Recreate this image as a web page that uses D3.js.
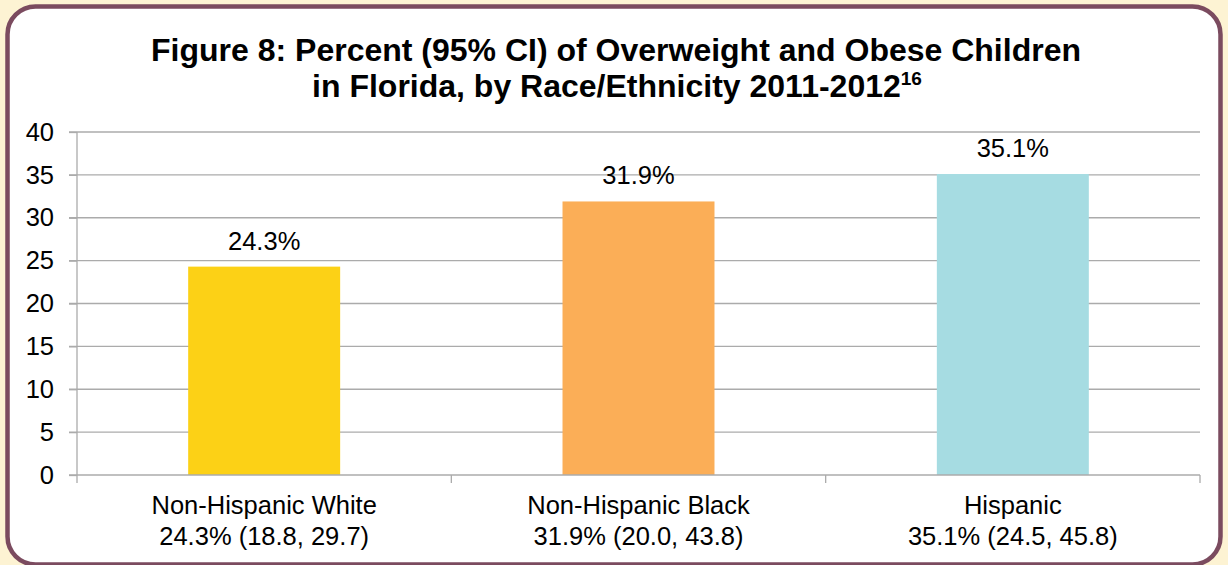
<!DOCTYPE html>
<html>
<head>
<meta charset="utf-8">
<script src="https://cdn.jsdelivr.net/npm/d3@7"></script>
<style>
  html, body { margin: 0; padding: 0; background: #FDF3D3; }
  svg { display: block; }
  svg text { font-family: Arial, "Liberation Sans", Helvetica, sans-serif; fill: #000; }
</style>
</head>
<body>
<svg id="chart" width="1228" height="565"></svg>
<script>
// Overweight/obese children in Florida, by race/ethnicity, 2011-2012
const categories = ["Non-Hispanic White", "Non-Hispanic Black", "Hispanic"];
const values = [24.3, 31.9, 35.1];
const ciLabels = ["24.3% (18.8, 29.7)", "31.9% (20.0, 43.8)", "35.1% (24.5, 45.8)"];
const barColors = ["#FCD116", "#FBAE57", "#A6DCE2"];
const yTicks = [0, 5, 10, 15, 20, 25, 30, 35, 40];

const FONT = 'Arial, "Liberation Sans", Helvetica, sans-serif';
const LABEL_SIZE = "25.5px";
const svg = d3.select("#chart");

// Framed panel
svg.append("rect")
  .attr("x", 7.5).attr("y", 6.5)
  .attr("width", 1213).attr("height", 558)
  .attr("rx", 28).attr("ry", 28)
  .attr("fill", "#fff")
  .attr("stroke", "#7B4B5F")
  .attr("stroke-width", 4.5);

// Title
const title = svg.append("text")
  .attr("text-anchor", "middle")
  .attr("font-family", FONT)
  .style("font-weight", "bold")
  .style("font-size", "32px");
title.append("tspan").attr("x", 616).attr("y", 61)
  .text("Figure 8: Percent (95% CI) of Overweight and Obese Children");
title.append("tspan").attr("x", 617).attr("y", 97)
  .text("in Florida, by Race/Ethnicity 2011-2012");
title.append("tspan").attr("dy", -12).style("font-size", "19px").text("16");

const margin = { left: 77, right: 1200, top: 132, bottom: 475 };

const x = d3.scaleBand()
  .domain(categories)
  .range([margin.left, margin.right])
  .paddingInner(0.594)
  .paddingOuter(0.297);

const y = d3.scaleLinear().domain([0, 40]).range([margin.bottom, margin.top]);

// Gridlines
svg.append("g")
  .selectAll("line")
  .data(yTicks.filter(d => d > 0))
  .join("line")
  .attr("x1", margin.left - 8).attr("x2", margin.right)
  .attr("y1", d => y(d)).attr("y2", d => y(d))
  .attr("stroke", "#ABABAB").attr("stroke-width", 1.3);

// Bars
svg.append("g")
  .selectAll("rect")
  .data(values)
  .join("rect")
  .attr("x", (d, i) => x(categories[i]))
  .attr("width", x.bandwidth())
  .attr("y", d => y(d))
  .attr("height", d => y(0) - y(d))
  .attr("fill", (d, i) => barColors[i]);

// Y axis
const yAxis = svg.append("g")
  .attr("transform", `translate(${margin.left},0)`)
  .call(d3.axisLeft(y).tickValues(yTicks).tickSize(8).tickPadding(15))
  .attr("font-family", FONT);
yAxis.select(".domain").attr("stroke", "#ABABAB").attr("stroke-width", 1.3)
  .attr("d", `M0,${margin.top}V${margin.bottom + 8}`);
yAxis.selectAll(".tick line").attr("stroke", "#ABABAB").attr("stroke-width", 1.3);
yAxis.selectAll(".tick text").style("font-size", LABEL_SIZE).attr("fill", "#000");

// X axis baseline and category separators
const xAxis = svg.append("g")
  .attr("transform", `translate(0,${margin.bottom})`);
xAxis.append("line")
  .attr("x1", margin.left - 8).attr("x2", margin.right)
  .attr("y1", 0).attr("y2", 0)
  .attr("stroke", "#ABABAB").attr("stroke-width", 1.3);
const step = x.step();
xAxis.selectAll("line.sep")
  .data(d3.range(1, categories.length + 1))
  .join("line")
  .attr("class", "sep")
  .attr("x1", i => margin.left + i * step).attr("x2", i => margin.left + i * step)
  .attr("y1", 0).attr("y2", 8)
  .attr("stroke", "#ABABAB").attr("stroke-width", 1.3);

// Category labels with CI
const catLabels = xAxis.selectAll("text.cat")
  .data(categories)
  .join("text")
  .attr("class", "cat")
  .attr("text-anchor", "middle")
  .attr("font-family", FONT)
  .style("font-size", LABEL_SIZE);
catLabels.append("tspan")
  .attr("x", d => x(d) + x.bandwidth() / 2)
  .attr("y", 39)
  .text(d => d);
catLabels.append("tspan")
  .attr("x", d => x(d) + x.bandwidth() / 2)
  .attr("y", 70)
  .text((d, i) => ciLabels[i]);

// Value labels
svg.append("g")
  .selectAll("text")
  .data(values)
  .join("text")
  .attr("text-anchor", "middle")
  .attr("font-family", FONT)
  .style("font-size", LABEL_SIZE)
  .attr("x", (d, i) => x(categories[i]) + x.bandwidth() / 2)
  .attr("y", d => y(d) - 17)
  .text(d => d.toFixed(1) + "%");
</script>
</body>
</html>
